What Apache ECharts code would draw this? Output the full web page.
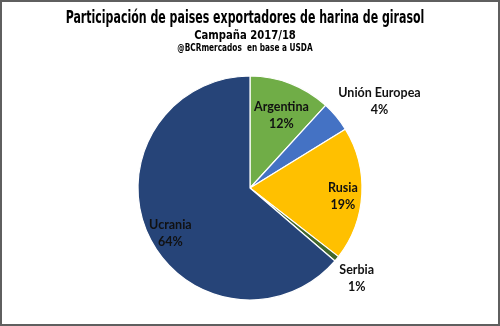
<!DOCTYPE html>
<html>
<head>
<meta charset="utf-8">
<script src="https://cdn.jsdelivr.net/npm/echarts@6/dist/echarts.min.js"></script>
<style>
  html, body { margin: 0; padding: 0; background: #fff; }
  #wrap { position: relative; width: 500px; height: 326px; }
  #chart { position: absolute; left: 0; top: 0; width: 500px; height: 326px; }
  #frame { position: absolute; left: 0; top: 0; width: 500px; height: 326px; box-sizing: border-box; border: 2px solid #5f5f5f; pointer-events: none; }
</style>
</head>
<body>
<div id="wrap"><div id="chart"></div><div id="frame"></div></div>
<script>
// Data
const categories = ['Argentina', 'Unión Europea', 'Rusia', 'Serbia', 'Ucrania'];
const shares = [11.8, 4.4, 19.3, 0.8, 63.7];
const titleLines = ['Participación de paises exportadores de harina de girasol', 'Campaña 2017/18', '@BCRmercados  en base a USDA'];

// Styling (kept separate from data)
const colors = ['#70AD47', '#4472C4', '#FFC000', '#43682B', '#264478'];
// label offsets relative to the default "inside" label position
const labelOffsets = [[10, -18], [84, -49], [34, 5], [61, 53], [-26, 21]];

const chart = echarts.init(document.getElementById('chart'), null, { renderer: 'canvas' });

const titleFont = "'DejaVu Sans Condensed', 'DejaVu Sans', sans-serif";
const titleStyles = [
  { y: 18.5, size: 17, sx: 0.72 },
  { y: 36, size: 13, sx: 0.86 },
  { y: 48.5, size: 10, sx: 0.82 }
];

chart.setOption({
  animation: false,
  backgroundColor: '#ffffff',
  graphic: titleLines.map((t, i) => ({
    type: 'text',
    x: 245, y: titleStyles[i].y,
    scaleX: titleStyles[i].sx,
    style: {
      text: t,
      font: 'bold ' + titleStyles[i].size + 'px ' + titleFont,
      fill: '#000',
      align: 'center',
      verticalAlign: 'middle'
    }
  })),
  series: [{
    type: 'pie',
    center: [250, 188],
    radius: [0, 112],
    startAngle: 90,
    clockwise: true,
    percentPrecision: 0,
    avoidLabelOverlap: false,
    itemStyle: { borderColor: '#ffffff', borderWidth: 1.2 },
    label: {
      show: true,
      position: 'inside',
      formatter: '{b}\n{d}%',
      fontFamily: "Lato, 'Open Sans', sans-serif",
      fontWeight: 'bold',
      fontSize: 12.5,
      lineHeight: 17,
      color: '#111111',
      align: 'center'
    },
    labelLine: { show: false },
    labelLayout: function (params) {
      const o = labelOffsets[params.dataIndex];
      return { dx: o[0], dy: o[1] };
    },
    data: categories.map((c, i) => ({ name: c, value: shares[i], itemStyle: { color: colors[i] } }))
  }]
});
</script>
</body>
</html>
